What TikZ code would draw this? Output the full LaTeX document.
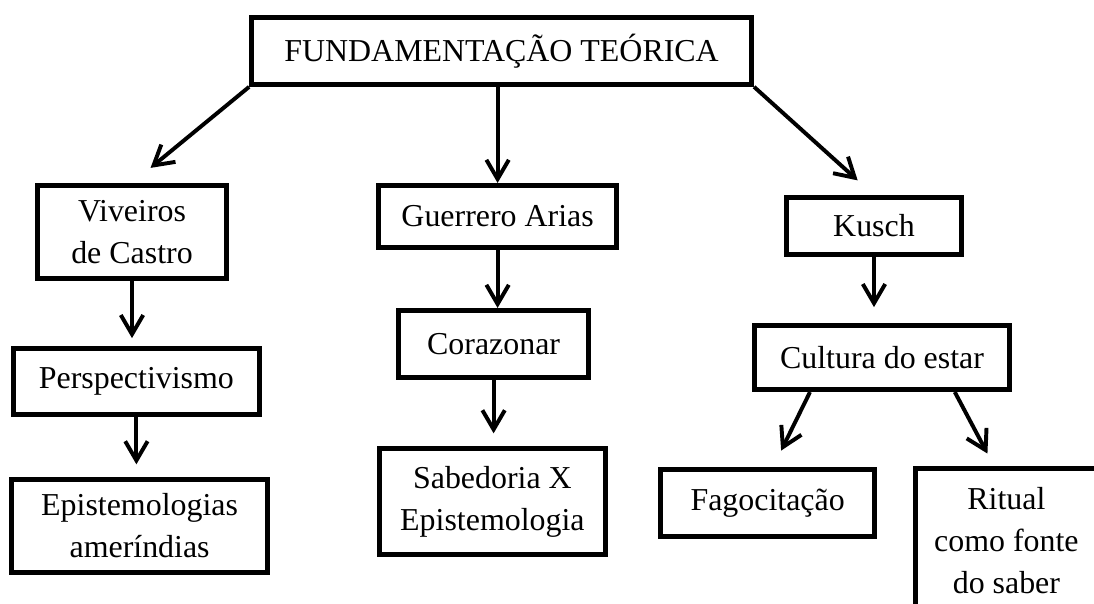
\documentclass[tikz,border=0pt]{standalone}
\usepackage{fontspec}
\setmainfont{Liberation Serif}
\usetikzlibrary{arrows.meta}

\begin{document}
\begin{tikzpicture}
        [caixa/.style={draw=black, line width=3.5pt, align=center, inner sep=0pt,
                       font=\fontsize{22.7}{29.9}\selectfont},
         seta/.style={-{Straight Barb[length=4.8mm,width=5.6mm]}, line width=2.8pt}]
        \clip (0,0) rectangle (27.35,15.1);
        % caixas
        \node (topo) at (12.54,13.83) [caixa, minimum width=12.5cm, minimum height=1.68cm] {FUNDAMENTAÇÃO TEÓRICA};
        \node (viveiros) at (3.3,9.3) [caixa, minimum width=4.72cm, minimum height=2.32cm] {Viveiros\\de Castro};
        \node (guerrero) at (12.44,9.69) [caixa, minimum width=5.95cm, minimum height=1.55cm] {Guerrero Arias};
        \node (kusch) at (21.85,9.45) [caixa, minimum width=4.38cm, minimum height=1.42cm] {Kusch};
        \node (persp) at (3.41,5.56) [caixa, minimum width=6.15cm, minimum height=1.65cm] {Perspectivismo};
        \node (corazonar) at (12.34,6.5) [caixa, minimum width=4.75cm, minimum height=1.68cm] {Corazonar};
        \node (cultura) at (22.05,6.16) [caixa, minimum width=6.38cm, minimum height=1.6cm] {Cultura do estar};
        \node (epist) at (3.49,1.95) [caixa, minimum width=6.4cm, minimum height=2.32cm] {Epistemologias\\ameríndias};
        \node (sabedoria) at (12.31,2.56) [caixa, minimum width=5.65cm, minimum height=2.65cm] {Sabedoria X\\Epistemologia};
        \node (fago) at (19.19,2.53) [caixa, minimum width=5.35cm, minimum height=1.68cm] {Fagocitação};
        \node (ritual) at (25.16,1.58) [caixa, minimum width=4.55cm, minimum height=3.62cm] {Ritual\\como fonte\\do saber};
        % setas
        \draw[seta, shorten >=0.6cm] (topo.south west) -- (viveiros.north);
        \draw[seta] (guerrero.north |- topo.south) -- (guerrero.north);
        \draw[seta, shorten >=0.55cm] (topo.south east) -- (kusch.north);
        \draw[seta, shorten >=0.2cm] (viveiros.south) -- (viveiros.south |- persp.north);
        \draw[seta, shorten >=0.32cm] (persp.south) -- (persp.south |- epist.north);
        \draw[seta] (guerrero.south) -- (guerrero.south |- corazonar.north);
        \draw[seta, shorten >=0.32cm] (corazonar.south) -- (corazonar.south |- sabedoria.north);
        \draw[seta, shorten >=0.4cm] (kusch.south) -- (kusch.south |- cultura.north);
        \draw[seta, shorten >=0.45cm] ([xshift=-1.8cm]cultura.south) -- ([xshift=0.14cm]fago.north);
        \draw[seta, shorten >=0.35cm] ([xshift=1.82cm]cultura.south) -- ([xshift=-0.31cm]ritual.north);
\end{tikzpicture}
\end{document}
